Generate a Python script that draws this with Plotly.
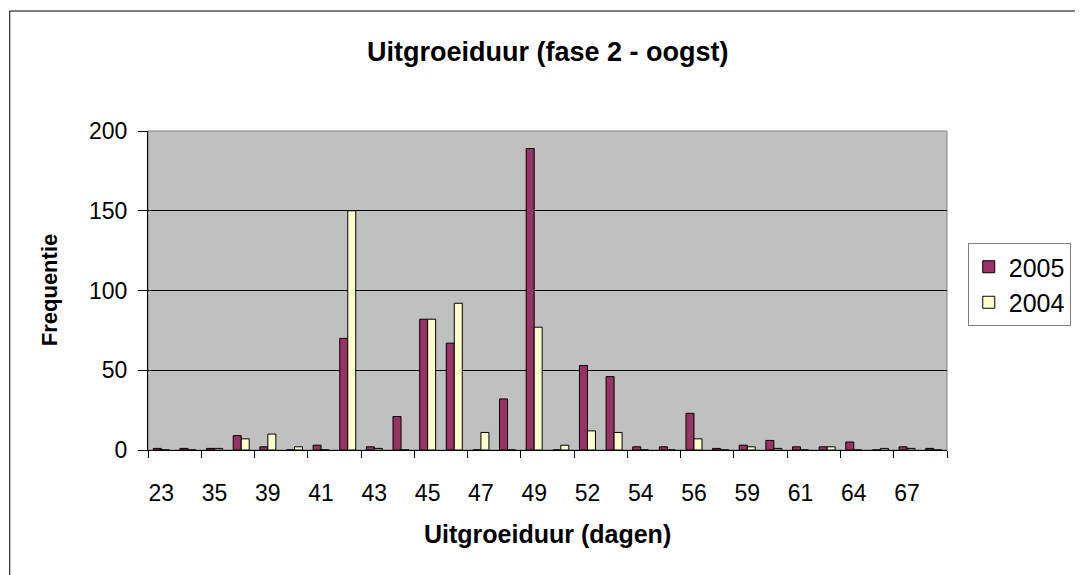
import plotly.graph_objects as go

categories = ["23", "34", "35", "37", "39", "40", "41", "42", "43", "44",
              "45", "46", "47", "48", "49", "51", "52", "53", "54", "55",
              "56", "58", "59", "60", "61", "63", "64", "66", "67", "69"]
values_2005 = [1, 1, 1, 9, 2, 0, 3, 70, 2, 21,
               82, 67, 0, 32, 189, 0, 53, 46, 2, 2,
               23, 1, 3, 6, 2, 2, 5, 0, 2, 1]
values_2004 = [0, 0, 1, 7, 10, 2, 0, 150, 1, 0,
               82, 92, 11, 0, 77, 3, 12, 11, 0, 0,
               7, 0, 2, 1, 0, 2, 0, 1, 1, 0]
y_ticks = [0, 50, 100, 150, 200]

FONT = "Liberation Sans, Arial, sans-serif"

fig = go.Figure()
fig.add_trace(go.Bar(x=categories, y=values_2005, name="2005",
                     marker=dict(color="#993366", line=dict(color="black", width=1)),
                     legendgroup="a"))
fig.add_trace(go.Bar(x=categories, y=values_2004, name="2004",
                     marker=dict(color="#FFFFCC", line=dict(color="black", width=1)),
                     legendgroup="b"))

# page has an 8px body margin: work in page coordinates, shift by OFF
OFF = 8
L, R, T, B = 148 - OFF, 957 - OFF, 131 - OFF, 450 - OFF
W, H = 1083 - OFF, 575 - OFF
pw, ph = R - L, B - T

def px(x):
    return (x - OFF - L) / pw

def py(y):
    return (B - (y - OFF)) / ph

fig.update_layout(
    width=W, height=H,
    margin=dict(l=L, r=W - R, t=T, b=H - B, pad=0),
    paper_bgcolor="white",
    plot_bgcolor="#C0C0C0",
    barmode="group",
    bargap=0.4,
    bargroupgap=0,
    font=dict(family=FONT, color="black", size=23),
    showlegend=True,
    legend=dict(x=px(978), y=py(243), xanchor="left", yanchor="top",
                bgcolor="white", bordercolor="#808080", borderwidth=1,
                font=dict(size=25, family=FONT), tracegroupgap=4,
                traceorder="normal"),
    xaxis=dict(type="category", tickmode="linear", tick0=0, dtick=2,
               tickson="boundaries", ticks="outside", ticklen=7, tickcolor="black",
               tickangle=0,
               showline=True, linecolor="black", linewidth=1, showgrid=False,
               ticklabelstandoff=22, tickfont=dict(size=23, family=FONT),
               range=[-0.5, len(categories) - 0.5]),
    yaxis=dict(range=[0, 200], tickvals=y_ticks, ticks="outside", ticklen=9,
               tickcolor="black", showline=True, linecolor="black", linewidth=1,
               showgrid=True, gridcolor="black", gridwidth=1, zeroline=False,
               ticklabelstandoff=6, tickfont=dict(size=23, family=FONT)),
    shapes=[
        dict(type="rect", xref="paper", yref="paper", x0=0, x1=1, y0=0, y1=1,
             line=dict(color="#808080", width=1), layer="below"),
        dict(type="rect", xref="paper", yref="paper",
             x0=px(8), x1=px(1200), y0=py(700), y1=py(11),
             line=dict(color="black", width=1), layer="below"),
    ],
    annotations=[
        dict(text="<b>Uitgroeiduur (fase 2 - oogst)</b>", xref="paper", yref="paper",
             x=px(553), y=py(52), xanchor="center", yanchor="middle", showarrow=False,
             font=dict(size=27, family=FONT)),
        dict(text="<b>Uitgroeiduur (dagen)</b>", xref="paper", yref="paper",
             x=px(552), y=py(534), xanchor="center", yanchor="middle", showarrow=False,
             font=dict(size=25, family=FONT)),
        dict(text="<b>Frequentie</b>", xref="paper", yref="paper",
             x=px(48), y=py(348), xanchor="center", yanchor="bottom", showarrow=False,
             textangle=-90, font=dict(size=22, family=FONT)),
    ],
)

fig.write_html("out.html")
